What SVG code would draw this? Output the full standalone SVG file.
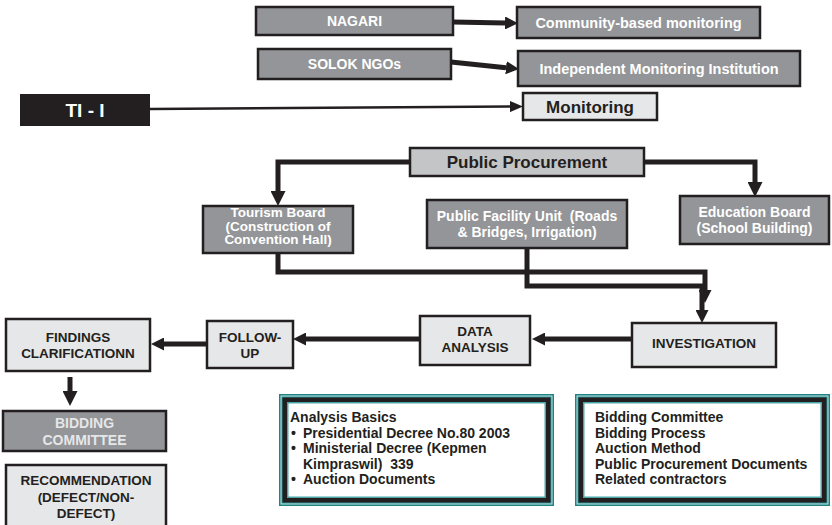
<svg xmlns="http://www.w3.org/2000/svg" width="832" height="525" viewBox="0 0 832 525">
<style>
.dk{fill:#939598;stroke:#231f20;stroke-width:2.5}
.lt{fill:#e6e7e8;stroke:#231f20;stroke-width:2.5}
.pp{fill:#c4c5c7;stroke:#231f20;stroke-width:2.5}
.t{font-family:"Liberation Sans",Arial,sans-serif;font-weight:bold;text-anchor:middle}
.l{font-family:"Liberation Sans",Arial,sans-serif;font-weight:bold;font-size:14px;fill:#231f20}
.w{fill:#ffffff}
.g{fill:#e6e7e8}
.d{fill:#231f20}
.c{fill:none;stroke:#231f20;stroke-width:5}
.c2{fill:none;stroke:#231f20;stroke-width:2.5}
</style>
<defs>
<marker id="a" markerUnits="userSpaceOnUse" markerWidth="13" markerHeight="13" refX="0" refY="6.5" orient="auto" viewBox="0 0 13 13"><path d="M0,0 L13,6.5 L0,13 z" fill="#231f20"/></marker>
<marker id="b" markerUnits="userSpaceOnUse" markerWidth="15" markerHeight="15" refX="0" refY="7.5" orient="auto" viewBox="0 0 15 15"><path d="M0,0 L15,7.5 L0,15 z" fill="#231f20"/></marker>
<marker id="s" markerUnits="userSpaceOnUse" markerWidth="13" markerHeight="11" refX="0" refY="5.5" orient="auto" viewBox="0 0 13 11"><path d="M0,0 L13,5.5 L0,11 z" fill="#231f20"/></marker>
</defs>

<g id="connectors">
<path class="c" d="M453,22 L505,23" marker-end="url(#a)"/>
<path class="c" d="M451,62 L506,67.7" marker-end="url(#a)"/>
<path class="c2" d="M150,109 L510,106.6" marker-end="url(#s)"/>
<path class="c" d="M410,162 H278 V191" marker-end="url(#b)"/>
<path class="c" d="M644,162 H755 V182" marker-end="url(#b)"/>
<path class="c" d="M278,253 V272 H705 V290" marker-end="url(#a)"/>
<path class="c" d="M527,248 V286 H702 V310" marker-end="url(#a)"/>
<path class="c" d="M632,339 H545" marker-end="url(#a)"/>
<path class="c" d="M420,339 H306" marker-end="url(#a)"/>
<path class="c" d="M207,344 H164" marker-end="url(#a)"/>
<path class="c" d="M70,377 V391" marker-end="url(#b)"/>
</g>

<g id="nagari"><rect class="dk" x="256" y="7" width="197" height="28"/><text class="t w" x="354.5" y="26" font-size="14">NAGARI</text></g>
<g id="solok"><rect class="dk" x="258" y="49" width="193" height="30"/><text class="t w" x="354.5" y="69" font-size="14">SOLOK NGOs</text></g>
<g id="community"><rect class="dk" x="517" y="7" width="243" height="31"/><text class="t w" x="638.5" y="28" font-size="14.5">Community-based monitoring</text></g>
<g id="independent"><rect class="dk" x="518" y="51" width="282" height="35"/><text class="t w" x="659" y="74" font-size="14.5">Independent Monitoring Institution</text></g>
<g id="ti"><rect x="20" y="94" width="130" height="32" fill="#231f20"/><text class="t w" x="85" y="117" font-size="19">TI - I</text></g>
<g id="monitoring"><rect class="lt" x="523" y="93" width="134" height="27"/><text class="t d" x="590" y="112.5" font-size="17">Monitoring</text></g>

<g id="procurement"><rect class="pp" x="410" y="148" width="234" height="28"/><text class="t d" x="527" y="168" font-size="17">Public Procurement</text></g>
<g id="tourism"><rect class="dk" x="203" y="206" width="150" height="47"/><text class="t w" font-size="13.5"><tspan x="278" y="217">Tourism Board</tspan><tspan x="278" y="230.5">(Construction of</tspan><tspan x="278" y="244">Convention Hall)</tspan></text></g>
<g id="facility"><rect class="dk" x="427" y="200" width="200" height="48"/><text class="t w" font-size="14"><tspan x="527" y="221">Public Facility Unit&#160; (Roads</tspan><tspan x="527" y="237">&amp; Bridges, Irrigation)</tspan></text></g>
<g id="education"><rect class="dk" x="680" y="196" width="149" height="48"/><text class="t w" font-size="14"><tspan x="754.5" y="217">Education Board</tspan><tspan x="754.5" y="233">(School Building)</tspan></text></g>

<g id="investigation"><rect class="lt" x="632" y="323" width="144" height="44"/><text class="t d" x="704" y="348" font-size="13.5">INVESTIGATION</text></g>
<g id="data"><rect class="lt" x="420" y="316" width="110" height="49"/><text class="t d" font-size="13.5"><tspan x="475" y="335.5">DATA</tspan><tspan x="475" y="351.5">ANALYSIS</tspan></text></g>
<g id="followup"><rect class="lt" x="207" y="321" width="86" height="47"/><text class="t d" font-size="13.5"><tspan x="250" y="342">FOLLOW-</tspan><tspan x="250" y="357.5">UP</tspan></text></g>
<g id="findings"><rect class="lt" x="6" y="319" width="144" height="52"/><text class="t d" font-size="13.5"><tspan x="78" y="342">FINDINGS</tspan><tspan x="78" y="358">CLARIFICATIONN</tspan></text></g>
<g id="bidding"><rect class="dk" x="3" y="411" width="163" height="40" stroke-width="3"/><text class="t g" font-size="14"><tspan x="84.5" y="428">BIDDING</tspan><tspan x="84.5" y="445">COMMITTEE</tspan></text></g>
<g id="recommendation"><rect class="lt" x="6" y="465" width="160" height="70"/><text class="t d" font-size="13.5"><tspan x="86" y="485">RECOMMENDATION</tspan><tspan x="86" y="501.5">(DEFECT/NON-</tspan><tspan x="86" y="518">DEFECT)</tspan></text></g>

<g id="analysis">
<rect x="279" y="394" width="275" height="112" fill="#1f8384"/>
<rect x="280.5" y="395.5" width="272" height="109" fill="#bfe2e2"/>
<rect x="281.5" y="396.5" width="270" height="107" fill="#2a8c8e"/>
<rect x="282.5" y="397.5" width="268" height="105" fill="#231f20"/>
<rect x="287" y="402" width="259" height="96" fill="#4aa5a6"/>
<rect x="288.5" y="403.5" width="256" height="93" fill="#ffffff"/>
<text class="l"><tspan x="290" y="422">Analysis Basics</tspan><tspan x="291" y="437.5">•</tspan><tspan x="303" y="437.5">Presidential Decree No.80 2003</tspan><tspan x="291" y="453">•</tspan><tspan x="303" y="453">Ministerial Decree (Kepmen</tspan><tspan x="303" y="468.5">Kimpraswil)&#160; 339</tspan><tspan x="291" y="484">•</tspan><tspan x="303" y="484">Auction Documents</tspan></text>
</g>
<g id="bidding-info">
<rect x="575" y="394" width="255" height="112" fill="#1f8384"/>
<rect x="576.5" y="395.5" width="252" height="109" fill="#bfe2e2"/>
<rect x="577.5" y="396.5" width="250" height="107" fill="#2a8c8e"/>
<rect x="578.5" y="397.5" width="248" height="105" fill="#231f20"/>
<rect x="583" y="402" width="239" height="96" fill="#4aa5a6"/>
<rect x="584.5" y="403.5" width="236" height="93" fill="#ffffff"/>
<text class="l"><tspan x="595" y="422">Bidding Committee</tspan><tspan x="595" y="437.5">Bidding Process</tspan><tspan x="595" y="453">Auction Method</tspan><tspan x="595" y="468.5">Public Procurement Documents</tspan><tspan x="595" y="484">Related contractors</tspan></text>
</g>
</svg>
